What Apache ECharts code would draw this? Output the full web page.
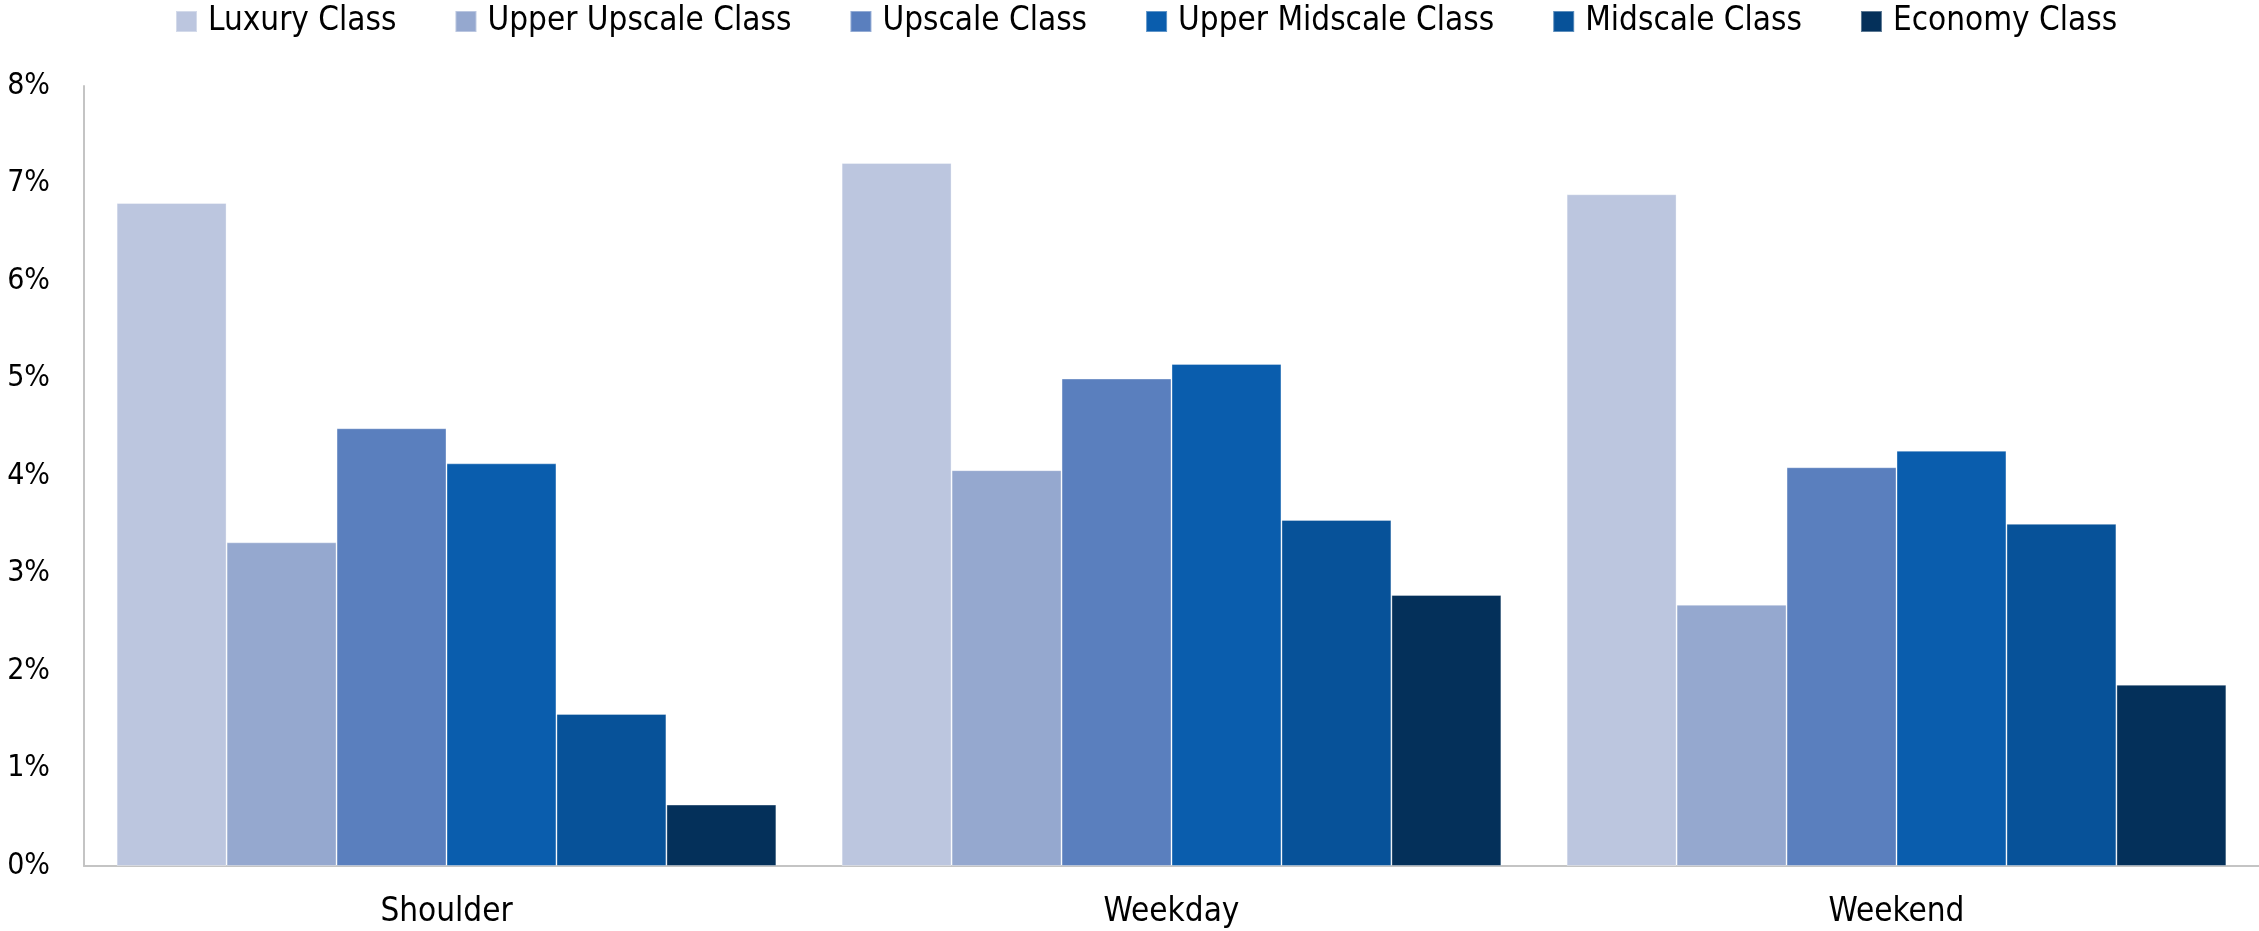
<!DOCTYPE html>
<html>
<head>
<meta charset="utf-8">
<script src="https://cdn.jsdelivr.net/npm/echarts@6/dist/echarts.min.js"></script>
<style>
  html, body { margin: 0; padding: 0; background: #ffffff; }
  #chart { width: 2259px; height: 931px; }
</style>
</head>
<body>
<div id="chart"></div>
<script>
// Day-type categories on the x axis
const categories = ['Shoulder', 'Weekday', 'Weekend'];

// Hotel class series names (legend order)
const seriesNames = ['Luxury Class', 'Upper Upscale Class', 'Upscale Class',
                     'Upper Midscale Class', 'Midscale Class', 'Economy Class'];

// Values in percent, one array per class: [Shoulder, Weekday, Weekend]
const luxury        = [6.80, 7.21, 6.89];
const upperUpscale  = [3.32, 4.06, 2.68];
const upscale       = [4.49, 5.00, 4.09];
const upperMidscale = [4.13, 5.15, 4.26];
const midscale      = [1.56, 3.55, 3.51];
const economy       = [0.63, 2.78, 1.86];

// Y axis range and step (percent)
const yMin = 0;
const yMax = 8;
const yStep = 1;

const seriesValues = [luxury, upperUpscale, upscale, upperMidscale, midscale, economy];
const colors = ['#BCC6DF', '#95A8CF', '#5A7FBE', '#0A5DAD', '#075299', '#04305A'];

const font = "'DejaVu Sans Condensed', 'DejaVu Sans', sans-serif";

const chart = echarts.init(document.getElementById('chart'), null, { renderer: 'canvas' });

chart.setOption({
  animation: false,
  backgroundColor: '#ffffff',
  color: colors,
  legend: {
    top: 0,
    left: 170,
    icon: 'rect',
    itemWidth: 21,
    itemHeight: 21,
    itemGap: 58,
    textStyle: {
      fontFamily: font,
      fontSize: 33,
      color: '#000000',
      padding: [0, 0, 0, 6]
    },
    data: seriesNames
  },
  grid: {
    left: 84,
    top: 86,
    width: 2175,
    height: 780,
    containLabel: false
  },
  xAxis: {
    type: 'category',
    data: categories,
    axisTick: { show: false },
    axisLine: { show: true, lineStyle: { color: '#C4C4C4', width: 2 } },
    axisLabel: {
      margin: 30,
      fontFamily: font,
      fontSize: 33,
      color: '#000000'
    }
  },
  yAxis: {
    type: 'value',
    min: yMin,
    max: yMax,
    interval: yStep,
    splitLine: { show: false },
    axisTick: { show: false },
    axisLine: { show: true, lineStyle: { color: '#C4C4C4', width: 2 } },
    axisLabel: {
      margin: 34,
      fontFamily: font,
      fontSize: 30,
      color: '#000000',
      formatter: '{value}%'
    }
  },
  series: seriesNames.map((name, i) => ({
    name: name,
    type: 'bar',
    data: seriesValues[i],
    barGap: '0%',
    barCategoryGap: '9%',
    itemStyle: {
      color: colors[i],
      borderColor: 'rgba(255,255,255,0.35)',
      borderWidth: 1
    }
  }))
});
</script>
</body>
</html>
